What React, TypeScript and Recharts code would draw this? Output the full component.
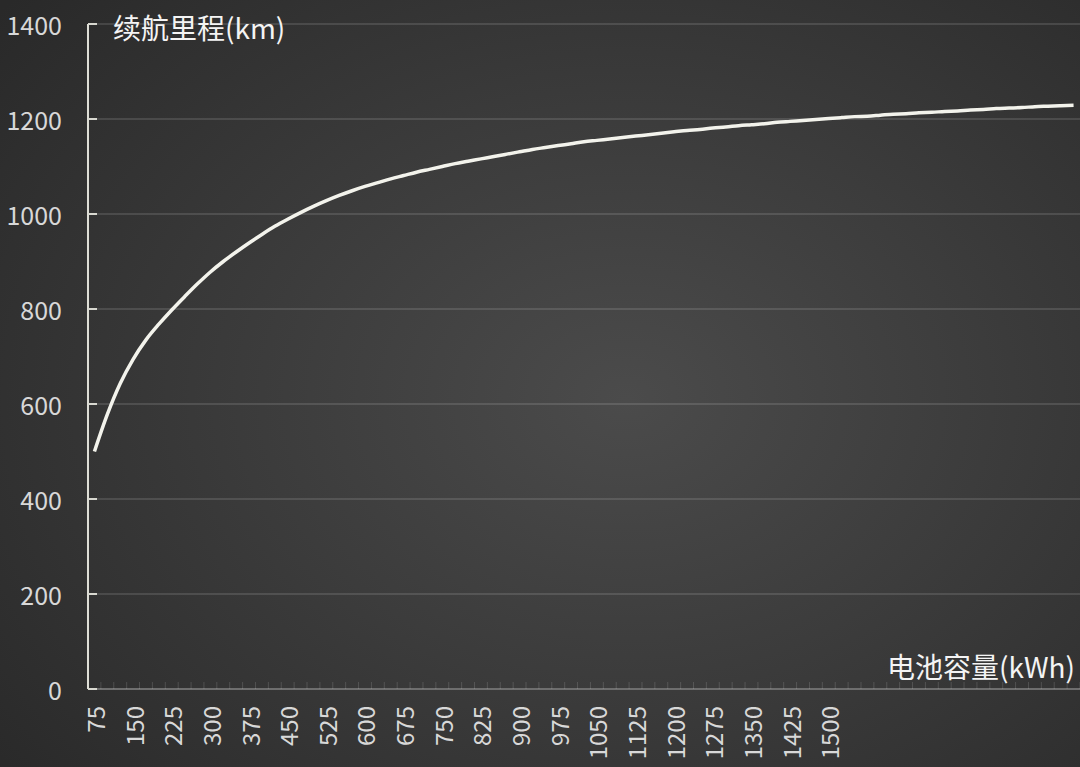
import React from 'react';
import { LineChart, Line, XAxis, YAxis, CartesianGrid } from 'recharts';

// battery capacity (kWh), one category every 25
const CAPACITY = [
  75, 100, 125, 150, 175, 200, 225, 250, 275, 300,
  325, 350, 375, 400, 425, 450, 475, 500, 525, 550,
  575, 600, 625, 650, 675, 700, 725, 750, 775, 800,
  825, 850, 875, 900, 925, 950, 975, 1000, 1025, 1050,
  1075, 1100, 1125, 1150, 1175, 1200, 1225, 1250, 1275, 1300,
  1325, 1350, 1375, 1400, 1425, 1450, 1475, 1500, 1525, 1550,
  1575, 1600, 1625, 1650, 1675, 1700, 1725, 1750, 1775, 1800,
  1825, 1850, 1875, 1900, 1925, 1950, 1975,
];

// driving range (km)
const RANGE = [
  500, 578, 643, 694, 735, 768, 798, 826, 853, 878,
  900, 920, 939, 957, 974, 989, 1003, 1016, 1028, 1039,
  1049, 1058, 1066, 1074, 1081, 1088, 1094, 1100, 1106, 1111,
  1116, 1121, 1126, 1131, 1136, 1140, 1144, 1148, 1152, 1155,
  1158, 1161, 1164, 1167, 1170, 1173, 1176, 1178, 1181, 1183,
  1186, 1188, 1190, 1193, 1195, 1197, 1199, 1201, 1203, 1205,
  1206, 1208, 1210, 1211, 1213, 1214, 1216, 1217, 1219, 1220,
  1222, 1223, 1224, 1226, 1227, 1228, 1229,
];

const X_LABELS = [
  '75', '150', '225', '300', '375', '450', '525', '600', '675', '750',
  '825', '900', '975', '1050', '1125', '1200', '1275', '1350', '1425', '1500',
];
const Y_TICKS = [0, 200, 400, 600, 800, 1000, 1200, 1400];

const Y_TITLE = '续航里程(km)';
const X_TITLE = '电池容量(kWh)';

const data = CAPACITY.map((c, i) => ({ capacity: String(c), range: RANGE[i] }));

const FONT = '"Noto Sans CJK SC", "Noto Sans", sans-serif';
const PLOT_W = 992;
const HALF_BAND = PLOT_W / CAPACITY.length / 2;

const YTick = (props: any) => {
  const { x, y, payload } = props;
  const axisX = x + 26;
  return (
    <g>
      <line x1={axisX} x2={axisX + 9} y1={y} y2={y} stroke="#d8d8d0" strokeWidth={2} />
      <text x={x} y={y} textAnchor="end" dominantBaseline="central" fill="#d8d8d8" fontSize={25} fontFamily={FONT}>
        {payload.value}
      </text>
    </g>
  );
};

const XTick = (props: any) => {
  const { x, y, payload } = props;
  const axisY = y - 10;
  const show = X_LABELS.includes(String(payload.value));
  return (
    <g>
      <line x1={x + HALF_BAND} x2={x + HALF_BAND} y1={axisY} y2={axisY - 7} stroke="rgba(255,255,255,0.14)" strokeWidth={1} />
      {show && (
        <text
          x={x}
          y={y + 7}
          transform={`rotate(-90, ${x}, ${y + 7})`}
          textAnchor="end"
          dominantBaseline="central"
          fill="#d8d8d8"
          fontSize={24}
          fontFamily={FONT}
        >
          {payload.value}
        </text>
      )}
    </g>
  );
};

export default function App() {
  return (
    <div
      style={{
        position: 'absolute',
        left: 0,
        top: 0,
        width: 1080,
        height: 767,
        overflow: 'hidden',
        background: 'radial-gradient(ellipse 75% 80% at 58% 52%, #4b4b4b 0%, #3c3c3c 45%, #292929 100%)',
      }}
    >
      <LineChart width={1080} height={767} data={data} margin={{ top: 24, right: 0, bottom: 0, left: 0 }}>
        <CartesianGrid horizontal vertical={false} stroke="rgba(255,255,255,0.12)" strokeWidth={2} />
        <XAxis
          dataKey="capacity"
          height={78}
          interval={0}
          padding={{ left: HALF_BAND, right: HALF_BAND }}
          tick={<XTick />}
          tickLine={false}
          tickSize={0}
          tickMargin={10}
          axisLine={{ stroke: '#6e6e6e', strokeWidth: 2 }}
        />
        <YAxis
          width={88}
          domain={[0, 1400]}
          ticks={Y_TICKS}
          interval={0}
          tick={<YTick />}
          tickLine={false}
          tickSize={0}
          tickMargin={26}
          axisLine={{ stroke: '#deded6', strokeWidth: 2 }}
        />
        <Line
          type="monotone"
          dataKey="range"
          stroke="#f3f3ec"
          strokeWidth={3.5}
          dot={false}
          isAnimationActive={false}
        />
      </LineChart>
      <div
        style={{
          position: 'absolute',
          left: 113,
          top: 12,
          fontFamily: FONT,
          fontSize: 28,
          lineHeight: '30px',
          color: '#f4f4f4',
          whiteSpace: 'nowrap',
        }}
      >
        {Y_TITLE}
      </div>
      <div
        style={{
          position: 'absolute',
          right: 5,
          top: 651,
          fontFamily: FONT,
          fontSize: 28,
          lineHeight: '30px',
          color: '#f4f4f4',
          whiteSpace: 'nowrap',
        }}
      >
        {X_TITLE}
      </div>
    </div>
  );
}
